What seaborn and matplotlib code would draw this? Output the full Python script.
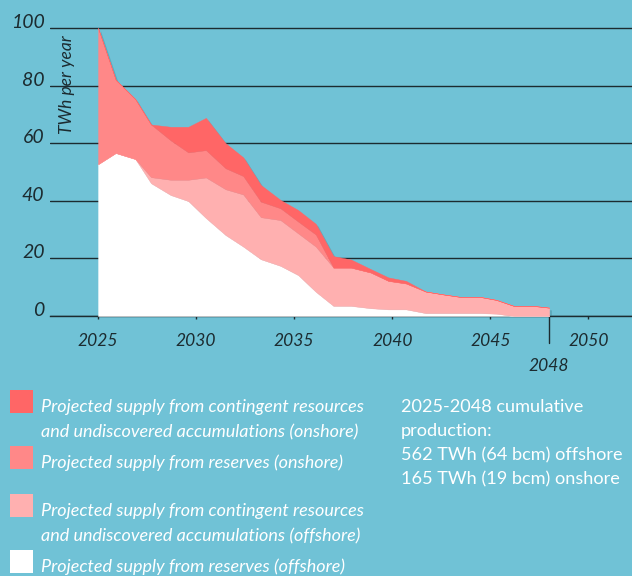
import numpy as np
import matplotlib
matplotlib.use("Agg")
import matplotlib.pyplot as plt
import matplotlib.patheffects as pe
from matplotlib.patches import Rectangle
import seaborn as sns

# data (TWh per year), stacked bottom -> top
years = [2025.0, 2025.9, 2026.9, 2027.7, 2028.7, 2029.6, 2030.5, 2031.5, 2032.4,
         2033.3, 2034.3, 2035.2, 2036.1, 2037.0, 2037.9, 2038.9, 2039.8, 2040.7,
         2041.7, 2042.6, 2043.5, 2044.5, 2045.3, 2046.2, 2047.2, 2048.0]
offshore_reserves = [52.7, 56.6, 54.5, 46.1, 42.0, 39.9, 34.0, 28.1, 24.1, 19.7, 17.4, 14.2, 8.4,
                     3.5, 3.5, 2.7, 2.3, 2.3, 1.0, 1.0, 1.0, 1.0, 0.8, 0.0, 0.0, 0.0]
offshore_contingent = [0.0, 0.0, 0.0, 2.1, 5.3, 7.4, 14.1, 15.9, 18.1, 14.6, 15.9, 14.5, 15.7,
                       13.3, 13.3, 12.4, 9.9, 9.0, 7.5, 6.5, 5.6, 5.6, 4.8, 3.5, 3.5, 2.9]
onshore_reserves = [47.3, 25.4, 20.8, 18.3, 13.7, 9.5, 9.5, 7.3, 6.4, 5.4, 4.1, 4.1, 4.2,
                    0.0, 0.0, 0.0, 0.0, 0.0, 0.0, 0.0, 0.0, 0.0, 0.0, 0.0, 0.0, 0.0]
onshore_contingent = [0.0, 0.0, 0.0, 0.0, 4.7, 8.9, 11.2, 8.7, 6.5, 5.8, 2.9, 4.0, 3.7,
                      4.0, 2.8, 1.2, 1.2, 0.9, 0.0, 0.0, 0.0, 0.0, 0.0, 0.0, 0.0, 0.0]

y_ticks = [0, 20, 40, 60, 80, 100]
x_ticks = [2025, 2030, 2035, 2040, 2045, 2050]
end_year = 2048

legend_labels = [
    "Projected supply from contingent resources\nand undiscovered accumulations (onshore)",
    "Projected supply from reserves (onshore)",
    "Projected supply from contingent resources\nand undiscovered accumulations (offshore)",
    "Projected supply from reserves (offshore)",
]
summary_lines = [
    "2025-2048 cumulative",
    "production:",
    "562 TWh (64 bcm) offshore",
    "165 TWh (19 bcm) onshore",
]

BG = "#70C2D6"
INK = "#1C2B30"
colors = ["#FFFFFF", "#FFB0B0", "#FF8888", "#FF6666"]

sns.set_theme(style="white", rc={"axes.facecolor": BG, "figure.facecolor": BG})
plt.rcParams["font.family"] = ["Lato", "DejaVu Sans"]

W, H = 632, 576
fig = plt.figure(figsize=(W / 100, H / 100), dpi=100)
ax = fig.add_axes([50 / W, 1 - 316 / H, 582 / W, (102 * 2.88) / H])

# soft shadow under the whole stack
total = np.sum([offshore_reserves, offshore_contingent, onshore_reserves, onshore_contingent], axis=0)
ax.fill_between(years, 0, total, facecolor="none", linewidth=0, zorder=2,
                path_effects=[pe.SimplePatchShadow(offset=(2, -2), shadow_rgbFace="#4a8fa0", alpha=0.45)])

ax.stackplot(years, offshore_reserves, offshore_contingent, onshore_reserves, onshore_contingent,
             colors=colors, edgecolor="face", linewidth=0.3, zorder=3)

ax.set_xlim(2022.55, 2052.22)
ax.set_ylim(0, 102)
ax.set_yticks(y_ticks)
ax.set_yticklabels([str(v) for v in y_ticks], fontstyle="italic", fontsize=14, color=INK)
for t in ax.get_yticklabels():
    t.set_verticalalignment("baseline")
ax.set_xticks(x_ticks)
ax.set_xticklabels([str(v) for v in x_ticks], fontstyle="italic", fontsize=12.5, color=INK)
ax.tick_params(axis="y", length=0, pad=4)
ax.tick_params(axis="x", direction="out", length=2.5, width=1, color=INK, pad=9.5, bottom=True)
ax.yaxis.grid(True, color=INK, linewidth=1)
ax.set_axisbelow(True)
sns.despine(ax=ax, left=True, top=True, right=True)
ax.spines["bottom"].set_color(INK)
ax.spines["bottom"].set_linewidth(1)

ax.text(2023.4, 80.2, "TWh per year", rotation=90, ha="center", va="center",
        fontstyle="italic", fontsize=12.5, color=INK)

# end-of-projection marker
ax.plot([end_year, end_year], [0, -9.4], color=INK, linewidth=1, clip_on=False)
ax.text(end_year, -17.3, str(end_year), ha="center", va="center",
        fontstyle="italic", fontsize=12.5, color=INK)

# legend
square_tops = [390, 446, 494, 550]
legend_colors = colors[::-1]
for top, col, lab in zip(square_tops, legend_colors, legend_labels):
    fig.add_artist(Rectangle((10 / W, 1 - (top + 23) / H), 23 / W, 23 / H,
                             transform=fig.transFigure, facecolor=col, edgecolor="none"))
    for j, line in enumerate(lab.split("\n")):
        fig.text(41 / W, 1 - (top + 17 + 25 * j) / H, line, ha="left", va="center",
                 fontstyle="italic", fontsize=13, color="white")

for j, line in enumerate(summary_lines):
    fig.text(401 / W, 1 - (406.7 + 24.2 * j) / H, line, ha="left", va="center",
             fontsize=13.1, color="white")

fig.savefig("out.png", dpi=100, facecolor=BG)
